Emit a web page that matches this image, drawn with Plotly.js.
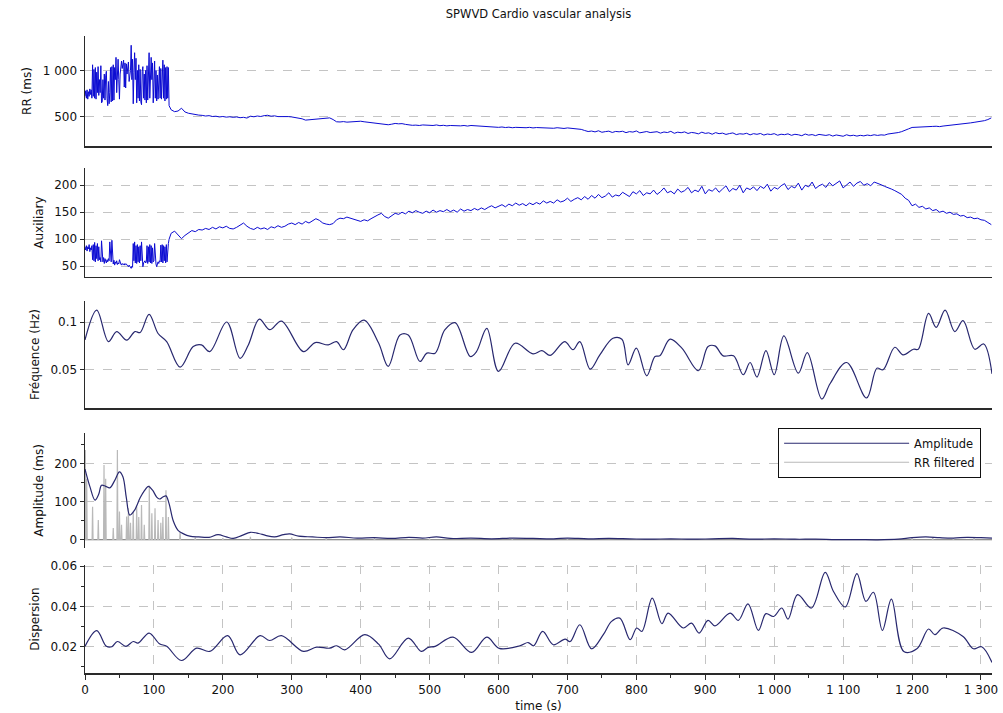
<!DOCTYPE html>
<html>
<head>
<meta charset="utf-8">
<script src="https://cdn.plot.ly/plotly-3.0.1.min.js"></script>
<style>html,body{margin:0;padding:0;background:#fff;}#chart{width:1003px;height:713px;}</style>
</head>
<body>
<div id="chart"></div>
<script>
// ---------- DATA ----------
// Sampling of the beat-to-beat signals
const noisyStart = 0, noisyStep = 1;      // seconds, first (irregular) part
const smoothStart = 125, smoothStep = 5;  // seconds, second part

// RR intervals (ms), 0..122 s
const rrNoisy = [
 720,780,700,790,690,770,720,800,740,790,700,
 1060,720,1010,700,1030,690,980,760,1040,730,
 900,760,1050,650,660,900,700,960,680,940,
 990,700,620,880,640,760,1030,660,1040,670,
 1060,680,1030,900,1140,760,1080,1120,900,690,
 960,1080,1100,1020,1090,1110,820,1080,810,1070,
 960,1050,1090,880,950,1000,1270,900,1120,640,
 980,1190,900,1130,650,1000,700,1060,670,1010,
 660,630,990,1040,700,960,680,1000,650,1050,
 680,990,1190,700,1060,1140,900,1080,650,980,
 1100,700,1000,670,950,690,980,1040,700,1020,
 690,1040,1110,700,1060,670,1030,690,1040,700,
 1030,620
];
// RR intervals (ms), 125..1315 s every 5 s
const rrSmooth = [
 575,555,562,592,552,538,530,522,518,515,
 508,512,503,506,498,503,496,500,494,498,
 490,494,486,506,500,508,503,512,516,506,
 510,502,504,498,502,498,494,488,478,464,
 468,472,476,480,484,486,488,470,446,444,
 448,442,446,450,448,452,446,442,440,436,
 430,424,418,414,420,428,424,426,418,412,
 408,410,406,412,408,410,406,412,404,408,
 402,406,404,408,402,406,400,406,404,398,
 392,390,394,388,390,386,390,384,388,382,
 386,384,388,382,386,380,384,382,378,384,
 380,376,382,378,374,380,376,372,370,364,
 352,341,346,337,349,333,340,345,331,342,
 338,344,329,340,335,347,327,336,341,330,
 333,339,324,336,330,343,322,334,328,337,
 320,331,326,316,334,321,327,312,329,318,
 324,310,319,326,308,317,313,322,305,318,
 311,320,303,314,309,318,301,312,307,316,
 300,311,306,296,314,302,308,297,310,303,
 299,307,292,304,298,290,306,295,301,292,
 300,294,303,297,306,299,305,302,314,318,
 322,330,340,352,370,385,388,386,392,390,
 394,396,398,394,400,404,402,410,414,420,
 426,428,434,440,444,450,458,470,488
];

// Auxiliary signal, 0..122 s
const auxNoisy = [
 86,80,88,78,86,82,90,77,84,80,88,
 62,90,60,94,58,88,64,92,60,86,
 62,66,58,97,64,58,66,55,64,60,
 56,62,58,64,60,95,62,58,98,60,
 54,61,52,58,55,60,53,56,54,62,
 56,54,52,55,53,54,52,55,53,54,
 52,50,49,52,50,48,46,50,48,92,
 60,95,56,88,55,90,58,86,56,88,
 60,95,62,49,56,58,60,56,58,88,
 55,86,58,90,56,88,55,84,58,60,
 92,58,54,49,56,58,55,60,58,89,
 58,90,56,88,60,86,56,90,58,88,
 92,100
];
// Auxiliary signal, 125..1315 s every 5 s
const auxSmooth = [
 111,115,108,101,107,112,116,114,118,117,
 120,118,122,119,123,121,124,120,119,122,
 126,130,124,120,118,122,119,121,118,123,
 121,125,122,124,128,130,127,131,128,133,
 130,134,138,135,130,128,127,129,136,139,
 138,141,139,136,135,133,136,134,138,142,
 145,148,142,139,144,148,146,150,147,152,
 149,153,150,148,152,149,154,150,153,151,
 155,151,154,150,156,152,155,153,157,154,
 158,155,159,162,158,161,164,160,165,162,
 167,163,166,162,167,164,168,165,171,167,
 170,167,173,169,171,176,170,174,177,173,
 179,174,181,176,183,177,180,186,178,182,
 180,187,183,179,188,184,190,181,186,184,
 191,183,188,195,186,189,184,193,187,190,
 196,186,191,188,198,184,192,189,195,187,
 193,199,188,194,191,200,186,195,192,197,
 190,198,194,202,189,196,193,199,203,192,
 198,195,204,191,200,197,206,194,199,202,
 196,205,199,203,208,195,201,206,198,204,
 207,200,203,199,206,204,201,198,196,193,
 190,186,183,176,172,162,165,159,161,156,
 158,153,155,150,152,148,150,146,147,143,
 144,140,141,138,139,136,135,131,127
];

// Instantaneous frequency (Hz)
const freqT = [0,17,34,46,60.5,72.5,80,93,106,118.5,
 138,157,169,181,205.6,225,237,253,268,285,
 317,334,353,365,375,389,405,426,440,457,
 469,486,496,508,522,537,559,568,583,600,
 624,650,663,675,696,708,718,733,747,766,
 779,788,800,815,827,834,849,866,890,904,
 914,926,941,955,965,975,988,1000,1014,1035,
 1048,1069,1081,1105,1134,1149,1158,1175,1187,1202,
 1209,1224,1235,1248,1262,1274,1291,1304,1316];
const freqV = [0.0813,0.1125,0.0795,0.090,0.081,0.090,0.089,0.108,0.088,0.0795,
 0.0528,0.0743,0.076,0.069,0.100,0.062,0.076,0.103,0.092,0.101,
 0.069,0.0785,0.076,0.0795,0.071,0.092,0.102,0.078,0.0535,0.0865,
 0.0865,0.0587,0.0674,0.0674,0.0917,0.0993,0.0639,0.069,0.0934,0.0483,
 0.0778,0.0667,0.070,0.065,0.0795,0.071,0.0795,0.0507,0.0656,0.083,
 0.082,0.0552,0.0726,0.0437,0.0639,0.0646,0.082,0.0726,0.049,0.0743,
 0.075,0.0646,0.0646,0.0448,0.0576,0.0424,0.070,0.0448,0.0854,0.0465,
 0.068,0.0194,0.0354,0.0576,0.0205,0.0517,0.050,0.0736,0.0656,0.0715,
 0.0715,0.109,0.0944,0.1125,0.090,0.1014,0.0715,0.077,0.0458];

// Amplitude (ms)
const ampT = [0,7,14.5,20,24,30,36,43,50,55,
 60,65,72,80,86,92,98,104,108,113,
 117.5,122,128,135,143,152,165,180,193,205,
 215,228,240,252,262,275,288,297,310,330,
 350,370,395,420,445,470,490,510,530,560,
 590,620,650,680,700,730,760,790,820,850,
 880,910,940,970,1000,1030,1060,1090,1120,1150,
 1180,1200,1220,1240,1260,1280,1300,1316];
const ampV = [185,140,104,120,143,140,136,155,178,165,
 110,65,78,110,128,140,130,112,107,112,
 115,95,50,25,16,10,8,7,14,8,
 4,12,20,17,12,8,14,16,10,8,
 6,8,5,6,4,7,5,8,4,5,
 3,5,4,3,5,3,4,3,2,3,
 2,3,4,2,3,2,2,1,1,0.5,
 2,6,8,6,5,7,6,5];

// RR filtered (ms): peak times and heights
const rrfT = [0.5,2.5,11,19.3,27.6,30,41,47,50,53,
 60.4,63,66,70,75,78,82,86,93.3,97,
 101.6,106,110,113,117.5,121,138,160,200,240,
 300,350,420,500,620,700,1200,1230,1260,1290];
const rrfH = [235,160,87,52,196,160,31,235,74,40,
 61,83,45,74,87,60,91,40,142,70,
 83,52,45,60,130,60,22,6,5,8,
 6,4,5,4,3,3,5,6,4,5];

// Dispersion
const dispT = [0,17,31,39,47,59.5,70,77,93,108,
 118.5,140,162,181,207,225,254,268,285,317,
 336,355,365,377,406,426,442,469,488,498,
 508,534,561,583,601,631,643,651,664,679.5,
 696.5,704,718,735,752,764,776,791,800.5,808,
 823,837,846,868,880,891,904,914,936,948,
 962,977,988,999,1011,1020,1034,1054,1074,1086,
 1103,1120,1133,1144,1157,1170,1188,1207,1224,1233,
 1245,1274,1289,1301,1316];
const dispV = [0.0202,0.028,0.0202,0.0200,0.0226,0.0202,0.0226,0.0218,0.0268,0.0215,
 0.0202,0.0132,0.0193,0.0177,0.0255,0.016,0.0255,0.0231,0.0255,0.0177,
 0.0198,0.0193,0.0205,0.0185,0.026,0.0213,0.014,0.0243,0.0177,0.0197,
 0.0202,0.0248,0.0172,0.0248,0.0192,0.0205,0.0221,0.0205,0.0276,0.021,
 0.0238,0.0226,0.0309,0.019,0.026,0.0326,0.0342,0.0235,0.0293,0.0276,
 0.0441,0.0314,0.0367,0.0293,0.0317,0.0268,0.0331,0.0304,0.0367,0.0331,
 0.0413,0.0281,0.0364,0.035,0.0392,0.0337,0.0458,0.0392,0.0569,0.0474,
 0.0397,0.0562,0.0425,0.047,0.0281,0.0436,0.0177,0.019,0.0288,0.026,
 0.0293,0.0251,0.019,0.02,0.0122];

// Text
const chartTitle = 'SPWVD Cardio vascular analysis';
const yTitles = ['RR (ms)', 'Auxiliary', 'Fréquence (Hz)', 'Amplitude (ms)', 'Dispersion'];
const xTitle = 'time (s)';
const legendNames = ['Amplitude', 'RR filtered'];

// ---------- BUILD ----------
function times(start, step, n) { const a = []; for (let i = 0; i < n; i++) a.push(start + i * step); return a; }
const rrT = times(noisyStart, noisyStep, rrNoisy.length).concat(times(smoothStart, smoothStep, rrSmooth.length));
const rrY = rrNoisy.concat(rrSmooth);
const auxT = times(noisyStart, noisyStep, auxNoisy.length).concat(times(smoothStart, smoothStep, auxSmooth.length));
const auxY = auxNoisy.concat(auxSmooth);

const spikeX = [], spikeY = [];
const hw = 0.7;
rrfT.forEach((t, i) => { spikeX.push(t - hw, t, t + hw); spikeY.push(0, rrfH[i], 0); });
spikeX.push(1316); spikeY.push(0);

const blue = '#0b0bd2';
const navy = '#28286f';
const FONT = 'DejaVu Sans, Verdana, sans-serif';

const traces = [
  {x: rrT, y: rrY, xaxis: 'x', yaxis: 'y', type: 'scatter', mode: 'lines', line: {color: blue, width: 1}, showlegend: false, hoverinfo: 'skip'},
  {x: auxT, y: auxY, xaxis: 'x2', yaxis: 'y2', type: 'scatter', mode: 'lines', line: {color: blue, width: 1}, showlegend: false, hoverinfo: 'skip'},
  {x: freqT, y: freqV, xaxis: 'x3', yaxis: 'y3', type: 'scatter', mode: 'lines', line: {color: navy, width: 1.2, shape: 'spline', smoothing: 1}, showlegend: false, hoverinfo: 'skip'},
  {x: spikeX, y: spikeY, xaxis: 'x4', yaxis: 'y4', type: 'scatter', mode: 'lines', name: legendNames[1], legendrank: 2, line: {color: '#b9b9b9', width: 1.2}, hoverinfo: 'skip'},
  {x: ampT, y: ampV, xaxis: 'x4', yaxis: 'y4', type: 'scatter', mode: 'lines', name: legendNames[0], legendrank: 1, line: {color: navy, width: 1.2, shape: 'spline', smoothing: 1}, hoverinfo: 'skip'},
  {x: dispT, y: dispV, xaxis: 'x5', yaxis: 'y5', type: 'scatter', mode: 'lines', line: {color: navy, width: 1.2, shape: 'spline', smoothing: 1}, showlegend: false, hoverinfo: 'skip'}
];

const xRange = [0, 1316];
const gridCol = '#c4c4c4';
const axisCol = '#2a2a2a';
const tickFont = {family: FONT, size: 12, color: '#111'};
const titleFont = {family: FONT, size: 12, color: '#111'};

function xBase(anchor) {
  return {anchor: anchor, range: xRange, domain: [0, 1], showline: true, linecolor: axisCol, linewidth: 1.5,
    showticklabels: false, ticks: '', showgrid: false, zeroline: false, fixedrange: true};
}
function yBase(domain, range, title) {
  return {domain: domain, range: range, showline: true, linecolor: axisCol, linewidth: 1.5,
    ticks: 'outside', ticklen: 4, tickcolor: axisCol, tickfont: tickFont,
    showgrid: true, gridcolor: gridCol, griddash: 'dash', gridwidth: 1, zeroline: false,
    title: {text: title, font: titleFont, standoff: 8}, fixedrange: true, separatethousands: true};
}

const layout = {
  width: 1003, height: 713,
  margin: {l: 85, r: 11, t: 36, b: 40},
  paper_bgcolor: '#fff', plot_bgcolor: '#fff',
  separators: '. ',
  font: {family: FONT, color: '#111'},
  title: {text: chartTitle, font: {family: FONT, size: 11.5, color: '#111'}, xref: 'paper', x: 0.5, xanchor: 'center', yref: 'container', y: 0.981, yanchor: 'middle'},
  showlegend: true,
  legend: {x: 0.988, xanchor: 'right', y: 0.385, yanchor: 'top', bgcolor: '#fff', bordercolor: '#111', borderwidth: 1,
    font: {family: FONT, size: 11.5, color: '#111'}, itemwidth: 125, tracegroupgap: 0},
  xaxis: xBase('y'),
  xaxis2: xBase('y2'),
  xaxis3: xBase('y3'),
  xaxis4: Object.assign(xBase('y4'), {showline: false, zeroline: false}),
  xaxis5: Object.assign(xBase('y5'), {showticklabels: true, ticks: 'outside', ticklen: 5, tickcolor: axisCol,
    dtick: 100, tick0: 0, tickfont: tickFont, showgrid: true, gridcolor: gridCol, griddash: 'dash', separatethousands: true,
    minor: {dtick: 50, ticks: 'outside', ticklen: 3, tickcolor: axisCol, showgrid: false},
    title: {text: xTitle, font: titleFont, standoff: 6}}),
  yaxis: Object.assign(yBase([0.8273, 1.0], [185, 1370], yTitles[0]), {tickvals: [500, 1000]}),
  yaxis2: Object.assign(yBase([0.6217, 0.7928], [30, 232], yTitles[1]), {dtick: 50, tick0: 0}),
  yaxis3: Object.assign(yBase([0.4160, 0.5840], [0.010, 0.122], yTitles[2]), {tickvals: [0.05, 0.1]}),
  yaxis4: Object.assign(yBase([0.1962, 0.3772], [-21, 280], yTitles[3]), {dtick: 100, tick0: 0,
    zeroline: true, zerolinecolor: '#111', zerolinewidth: 1,
    minor: {dtick: 50, ticks: 'outside', ticklen: 3, tickcolor: axisCol, showgrid: false}}),
  yaxis5: Object.assign(yBase([0, 0.1695], [0.007, 0.0605], yTitles[4]), {dtick: 0.02, tick0: 0,
    minor: {dtick: 0.01, ticks: 'outside', ticklen: 3, tickcolor: axisCol, showgrid: false}})
};

Plotly.newPlot('chart', traces, layout, {staticPlot: true, displayModeBar: false});
</script>
</body>
</html>
